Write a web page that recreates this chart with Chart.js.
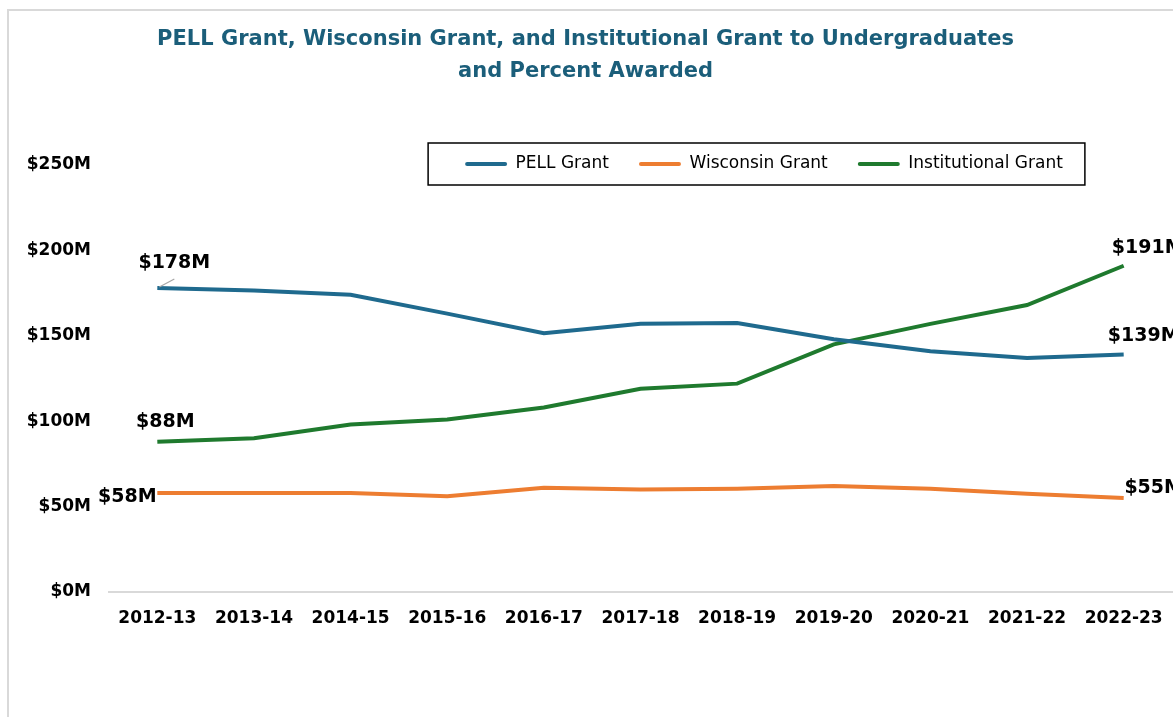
<!DOCTYPE html>
<html lang="en">
  <head>
    <meta charset="UTF-8" />
    <title>Grants to Undergraduates</title>
    <script src="https://cdn.jsdelivr.net/npm/chart.js"></script>
    <style>
      html, body { margin: 0; padding: 0; background: #fff; overflow: hidden; }
      #frame {
        position: absolute; left: 7px; top: 9px;
        width: 1220px; height: 720px;
        border: 2px solid #d9d9d9; background: #fff;
      }
      #wrap { position: absolute; left: -10px; top: 0; width: 1210px; height: 700px; }
    </style>
  </head>
  <body>
    <div id="frame">
      <div id="wrap"><canvas id="myChart"></canvas></div>
    </div>
    <script>
      // values in $ millions
      var years = ["2012-13", "2013-14", "2014-15", "2015-16", "2016-17", "2017-18",
                   "2018-19", "2019-20", "2020-21", "2021-22", "2022-23"];
      var pell = [178, 176.5, 174, 163, 151.5, 157, 157.5, 148, 141, 137, 139];
      var wisconsin = [58, 58, 58, 56, 61, 60, 60.5, 62, 60.5, 57.5, 55];
      var institutional = [88, 90, 98, 101, 108, 119, 122, 145, 157, 168, 191];
      var yTicks = [0, 50, 100, 150, 200, 250];

      var FONT = "'DejaVu Sans', Verdana, sans-serif";

      // where the first / last value labels sit, relative to the point
      var labelOffsets = [
        { first: [17, -25], last: [20, -19] },   // PELL
        { first: [-30, 4], last: [30, -10] },    // Wisconsin
        { first: [8, -20], last: [24, -18] },    // Institutional
      ];

      var endLabels = {
        id: "endLabels",
        afterDatasetsDraw(chart) {
          var ctx = chart.ctx;
          ctx.save();
          ctx.font = "bold 19px " + FONT;
          ctx.fillStyle = "#000";
          ctx.textAlign = "center";
          ctx.textBaseline = "middle";
          chart.data.datasets.forEach(function (ds, i) {
            var pts = chart.getDatasetMeta(i).data;
            var n = pts.length - 1;
            [[0, "first"], [n, "last"]].forEach(function (p) {
              var pt = pts[p[0]];
              var off = labelOffsets[i][p[1]];
              ctx.fillText("$" + Math.round(ds.data[p[0]]) + "M", pt.x + off[0], pt.y + off[1]);
            });
          });
          // small leader line on the PELL first label
          var p0 = chart.getDatasetMeta(0).data[0];
          ctx.strokeStyle = "#a6a6a6";
          ctx.lineWidth = 1.2;
          ctx.beginPath();
          ctx.moveTo(p0.x + 2, p0.y - 1);
          ctx.lineTo(p0.x + 17, p0.y - 9);
          ctx.stroke();
          ctx.restore();
        },
      };

      // legend sits in a framed box over the top of the plot
      var legendBox = {
        id: "legendBox",
        afterUpdate(chart) {
          var lg = chart.legend;
          var hb = lg.legendHitBoxes;
          var dx = 764 + 1 - (lg.left + lg.right) / 2;
          var dy = chart.chartArea.top - 1 - (hb[0].top + hb[0].height / 2);
          lg.left += dx; lg.right += dx;
          lg.top += dy; lg.bottom += dy;
          hb.forEach(function (b) { b.left += dx; b.top += dy; });
        },
        afterDraw(chart) {
          var hb = chart.legend.legendHitBoxes;
          var last = hb[hb.length - 1];
          var l = hb[0].left - 37;
          var r = last.left + last.width + 22;
          var cy = chart.chartArea.top - 1;
          var ctx = chart.ctx;
          ctx.save();
          ctx.strokeStyle = "#000";
          ctx.lineWidth = 1.5;
          ctx.strokeRect(l, cy - 21, r - l, 42);
          ctx.restore();
        },
      };

      var ctx = document.getElementById("myChart").getContext("2d");
      var chart = new Chart(ctx, {
        type: "line",
        data: {
          labels: years,
          datasets: [
            { label: "PELL Grant", data: pell, borderColor: "#1f6a8e", backgroundColor: "#1f6a8e" },
            { label: "Wisconsin Grant", data: wisconsin, borderColor: "#ed7d31", backgroundColor: "#ed7d31" },
            { label: "Institutional Grant", data: institutional, borderColor: "#1f7a2e", backgroundColor: "#1f7a2e" },
          ],
        },
        options: {
          responsive: true,
          maintainAspectRatio: false,
          animation: false,
          layout: { padding: { left: 0, right: 37, top: 0, bottom: 69 } },
          elements: {
            line: { borderWidth: 4, tension: 0 },
            point: { radius: 0 },
          },
          plugins: {
            title: {
              display: true,
              text: ["PELL Grant, Wisconsin Grant, and Institutional Grant to Undergraduates",
                     "and Percent Awarded"],
              color: "#1b5e7a",
              font: { family: FONT, size: 21, weight: "bold", lineHeight: 1.5 },
              padding: { top: 13, bottom: 21 },
            },
            legend: {
              position: "top",
              labels: {
                color: "#000",
                font: { family: FONT, size: 17 },
                boxWidth: 42,
                boxHeight: 4,
                padding: 30,
                generateLabels(chart) {
                  return Chart.defaults.plugins.legend.labels.generateLabels(chart).map(function (it) {
                    it.lineWidth = 0;
                    it.borderRadius = 2;
                    return it;
                  });
                },
              },
            },
            tooltip: { enabled: false },
          },
          scales: {
            x: {
              offset: true,
              grid: { display: false, drawTicks: false },
              border: { color: "#d9d9d9", width: 2 },
              ticks: { color: "#000", font: { family: FONT, size: 17, weight: "bold" }, padding: 16, maxRotation: 0 },
              afterFit(s) { s.height = 50; },
            },
            y: {
              min: 0,
              max: 250,
              afterBuildTicks(s) { s.ticks = yTicks.map(function (v) { return { value: v }; }); },
              grid: { display: false, drawTicks: false },
              border: { display: false },
              ticks: {
                color: "#000",
                font: { family: FONT, size: 17, weight: "bold" },
                padding: 18,
                callback: function (v) { return "$" + v + "M"; },
              },
              afterFit(s) { s.width = 110; },
            },
          },
        },
        plugins: [legendBox, endLabels],
      });
    </script>
  </body>
</html>
